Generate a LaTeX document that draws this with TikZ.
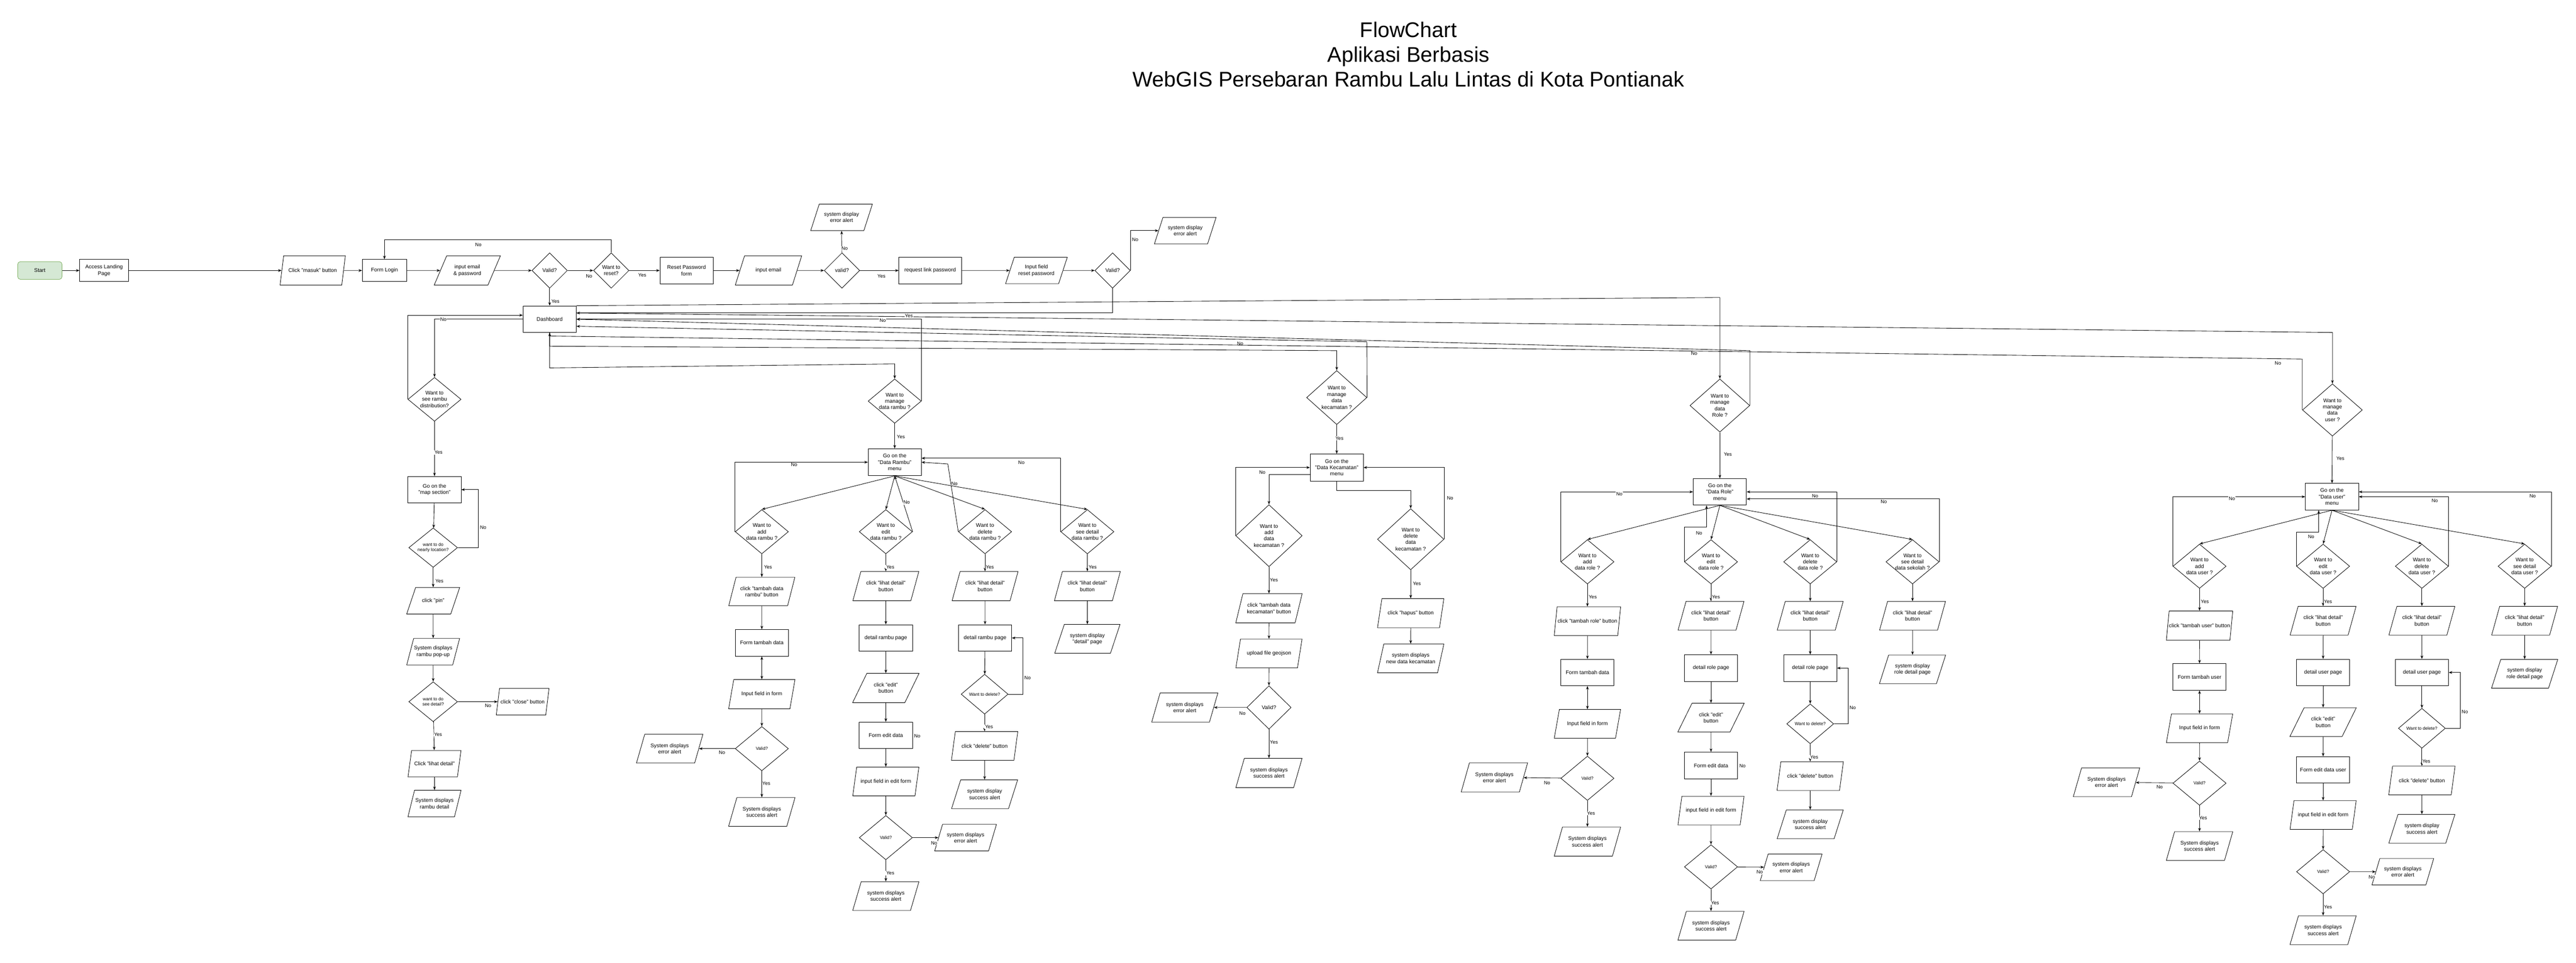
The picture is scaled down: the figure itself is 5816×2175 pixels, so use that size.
\documentclass[tikz,border=0pt]{standalone}
\usepackage{fontspec}
\setmainfont{Liberation Sans}
\usepackage{xcolor}
\usepackage{tikz}
\usetikzlibrary{shapes.geometric, arrows.meta}
\definecolor{startfill}{HTML}{D5E8D4}
\definecolor{startline}{HTML}{82B366}
\tikzstyle{startstop} = [rectangle, rounded corners=6pt, draw=startline, fill=startfill, minimum width=100pt, minimum height=40pt]
\tikzstyle{process} = [rectangle, draw, align=center, inner sep=2pt, minimum width=120pt, minimum height=60pt]
\tikzstyle{io} = [trapezium, trapezium left angle=72, trapezium right angle=108, trapezium stretches=true, draw, align=center, inner xsep=-14pt, minimum width=150pt, minimum height=65pt]
\tikzstyle{iosmall} = [io, minimum width=120pt, minimum height=60pt]
\tikzstyle{decision} = [diamond, draw, align=center, inner sep=-6pt, minimum width=120pt, minimum height=100pt]
\tikzstyle{smalldecision} = [decision, minimum width=80pt, minimum height=80pt]
\tikzstyle{small} = [font=\fontsize{10}{12}\selectfont]
\tikzstyle{askdelete} = [decision, small, minimum width=106pt, minimum height=90pt]
\tikzstyle{arrow} = [-{Stealth[length=8pt, width=6pt]}]
\tikzstyle{arrowboth} = [{Stealth[length=8pt, width=6pt]}-{Stealth[length=8pt, width=6pt]}]
\tikzstyle{lbl} = [fill=white, inner sep=1pt, font=\fontsize{11}{13}\selectfont]

\begin{document}
\begin{tikzpicture}[x=1pt, y=-1pt, line width=1pt, every node/.style={font=\fontsize{12}{14.4}\selectfont}]
\useasboundingbox (0,0) rectangle (5816,2175);

\node[font=\fontsize{48}{56}\selectfont, align=center] (title) at (3180,123) {FlowChart\\Aplikasi Berbasis\\WebGIS Persebaran Rambu Lalu Lintas di Kota Pontianak};

% login and reset password row
\node[startstop] (start) at (90,611) {Start};
\node[process, minimum width=110pt, minimum height=50pt] (landing) at (235,611) {Access Landing\\Page};
\node[io, minimum width=148pt, minimum height=66pt] (clickmasuk) at (706,611) {Click "masuk" button};
\node[process, minimum width=100pt, minimum height=50pt] (formlogin) at (868,611) {Form Login};
\node[io, minimum height=66pt] (inputlogin) at (1055,611) {input email\\\& password};
\node[smalldecision] (validlogin) at (1241,611) {Valid?};
\node[smalldecision] (wantreset) at (1380,611) {Want to\\reset?};
\node[process] (resetform) at (1550,611) {Reset Password\\form};
\node[io, minimum height=66pt] (inputemail) at (1735,611) {input email};
\node[smalldecision] (validemail) at (1901,611) {valid?};
\node[io, minimum width=140pt, minimum height=60pt] (erremail) at (1900,491) {system display\\error alert};
\node[process, minimum width=141pt] (reqlink) at (2100,611) {request link password};
\node[io, minimum width=140pt, minimum height=60pt] (inputreset) at (2340,611) {Input field\\reset password};
\node[smalldecision] (validreset) at (2512,611) {Valid?};
\node[io, minimum width=140pt, minimum height=60pt] (errreset) at (2676,521) {system display\\error alert};
\node[process] (dash) at (1241,721) {Dashboard};

% rambu distribution column
\node[decision, minimum height=99pt] (distdec) at (981,902) {Want to\\see rambu\\distribution?};
\node[process] (mapsec) at (981,1106) {Go on the\\"map section"};
\node[decision, small, minimum width=110pt, minimum height=89pt] (neardec) at (978,1237) {want to do\\nearly location?};
\node[iosmall] (clickpin) at (978,1357) {click "pin"};
\node[iosmall] (popup) at (978,1472) {System displays\\rambu pop-up};
\node[decision, small, minimum width=110pt, minimum height=90pt] (detdec) at (978,1585) {want to do\\see detail?};
\node[iosmall] (clickclose) at (1180,1585) {click "close" button};
\node[iosmall] (clicklihat) at (981,1725) {Click "lihat detail"};
\node[iosmall] (rambudetail) at (981,1815) {System displays\\rambu detail};

% data rambu
\node[decision] (rambudec) at (2020,906) {Want to\\manage\\data rambu ?};
\node[process, minimum height=61pt] (rambumenu) at (2020,1044) {Go on the\\"Data Rambu"\\menu};
\node[decision] (rAddDec) at (1720,1201) {Want to\\add\\data rambu ?};
\node[decision] (rEditDec) at (2000,1201) {Want to\\edit\\data rambu ?};
\node[decision] (rDelDec) at (2224,1201) {Want to\\delete\\data rambu ?};
\node[decision] (rSeeDec) at (2455,1201) {Want to\\see detail\\data rambu ?};
\node[io, minimum height=64pt] (rAddClick) at (1720,1336) {click "tambah data\\rambu" button};
\node[io, minimum height=66pt] (rEditClick) at (2000,1324) {click "lihat detail"\\button};
\node[io, minimum height=66pt] (rDelClick) at (2224,1324) {click "lihat detail"\\button};
\node[io, minimum height=66pt] (rSeeClick) at (2455,1324) {click "lihat detail"\\button};
\node[process] (rAddForm) at (1720,1452) {Form tambah data};
\node[io, minimum height=66pt] (rAddInput) at (1720,1568) {Input field in form};
\node[decision, small] (rAddValid) at (1720,1691) {Valid?};
\node[io] (rAddErr) at (1512,1691) {System displays\\error alert};
\node[io] (rAddOk) at (1720,1834) {System displays\\success alert};
\node[process] (rEditPage) at (2000,1441) {detail rambu page};
\node[io, minimum height=66pt] (rEditBtn) at (2000,1554) {click "edit"\\button};
\node[process] (rEditForm) at (2000,1661) {Form edit data};
\node[io] (rEditInput) at (2000,1765) {input field in edit form};
\node[decision, small] (rEditValid) at (2000,1892) {Valid?};
\node[io, minimum width=140pt, minimum height=60pt] (rEditErr) at (2180,1892) {system displays\\error alert};
\node[io] (rEditOk) at (2000,2024) {system displays\\success alert};
\node[process] (rDelPage) at (2224,1441) {detail rambu page};
\node[askdelete] (rDelAsk) at (2223,1568) {Want to delete?};
\node[io] (rDelBtn) at (2223,1685) {click "delete" button};
\node[io] (rDelOk) at (2223,1794) {system display\\success alert};
\node[io, minimum width=148pt] (rSeePage) at (2455,1443) {system display\\"detail" page};

% data kecamatan
\node[decision, minimum width=136pt, minimum height=122pt] (kecdec) at (3018,898) {Want to\\manage\\data\\kecamatan ?};
\node[process, minimum height=61pt] (kecmenu) at (3018,1056) {Go on the\\"Data Kecamatan"\\menu};
\node[decision, minimum width=150pt, minimum height=140pt] (kAddDec) at (2865,1210) {Want to\\add\\data\\kecamatan ?};
\node[decision, minimum width=150pt, minimum height=138pt] (kDelDec) at (3185,1218) {Want to\\delete\\data\\kecamatan ?};
\node[io, minimum height=66pt] (kAddClick) at (2865,1374) {click "tambah data\\kecamatan" button};
\node[io] (kUpload) at (2865,1476) {upload file geojson};
\node[decision, minimum width=100pt, minimum height=98pt] (kValid) at (2865,1598) {Valid?};
\node[io, minimum height=66pt] (kErr) at (2675,1598) {system displays\\error alert};
\node[io, minimum height=66pt] (kOk) at (2865,1746) {system displays\\success alert};
\node[io, minimum height=66pt] (kHapus) at (3185,1385) {click "hapus" button};
\node[io] (kNew) at (3185,1487) {system displays\\new data kecamatan};

% data role
\node[decision, minimum width=135pt, minimum height=120pt] (roledec) at (3883,916) {Want to\\manage\\data\\Role ?};
\node[process] (rolemenu) at (3883,1111) {Go on the\\"Data Role"\\menu};
\node[decision] (oAddDec) at (3584,1269) {Want to\\add\\data role ?};
\node[decision] (oEditDec) at (3863,1269) {Want to\\edit\\data role ?};
\node[decision] (oDelDec) at (4087,1269) {Want to\\delete\\data role ?};
\node[decision] (oSeeDec) at (4318,1269) {Want to\\see detail\\data sekolah ?};
\node[io] (oAddClick) at (3584,1403) {click "tambah role" button};
\node[io] (oEditClick) at (3863,1391) {click "lihat detail"\\button};
\node[io] (oDelClick) at (4087,1391) {click "lihat detail"\\button};
\node[io] (oSeeClick) at (4318,1391) {click "lihat detail"\\button};
\node[process] (oAddForm) at (3584,1519) {Form tambah data};
\node[io] (oAddInput) at (3584,1635) {Input field in form};
\node[decision, small] (oAddValid) at (3584,1758) {Valid?};
\node[io, minimum height=66pt] (oAddErr) at (3374,1756) {System displays\\error alert};
\node[io, minimum height=66pt] (oAddOk) at (3584,1901) {System displays\\success alert};
\node[process] (oEditPage) at (3863,1509) {detail role page};
\node[io] (oEditBtn) at (3863,1621) {click "edit"\\button};
\node[process] (oEditForm) at (3863,1729) {Form edit data};
\node[io] (oEditInput) at (3863,1831) {input field in edit form};
\node[decision, small] (oEditValid) at (3863,1958) {Valid?};
\node[io, minimum width=140pt, minimum height=60pt] (oEditErr) at (4044,1959) {system displays\\error alert};
\node[io] (oEditOk) at (3863,2091) {system displays\\success alert};
\node[process] (oDelPage) at (4087,1509) {detail role page};
\node[askdelete] (oDelAsk) at (4087,1635) {Want to delete?};
\node[io] (oDelBtn) at (4087,1753) {click "delete" button};
\node[io] (oDelOk) at (4087,1862) {system display\\success alert};
\node[io] (oSeePage) at (4318,1512) {system display\\role detail page};

% data user
\node[decision, minimum width=135pt, minimum height=118pt] (userdec) at (5266,926) {Want to\\manage\\data\\user ?};
\node[process] (usermenu) at (5265,1122) {Go on the\\"Data user"\\menu};
\node[decision] (uAddDec) at (4966,1279) {Want to\\add\\data user ?};
\node[decision] (uEditDec) at (5245,1279) {Want to\\edit\\data user ?};
\node[decision] (uDelDec) at (5468,1279) {Want to\\delete\\data user ?};
\node[decision] (uSeeDec) at (5700,1279) {Want to\\see detail\\data user ?};
\node[io, minimum height=66pt] (uAddClick) at (4966,1413) {click "tambah user" button};
\node[io] (uEditClick) at (5245,1402) {click "lihat detail"\\button};
\node[io] (uDelClick) at (5468,1402) {click "lihat detail"\\button};
\node[io] (uSeeClick) at (5700,1402) {click "lihat detail"\\button};
\node[process] (uAddForm) at (4966,1529) {Form tambah user};
\node[io] (uAddInput) at (4966,1645) {Input field in form};
\node[decision, small] (uAddValid) at (4966,1769) {Valid?};
\node[io] (uAddErr) at (4756,1767) {System displays\\error alert};
\node[io] (uAddOk) at (4966,1911) {System displays\\success alert};
\node[process] (uEditPage) at (5245,1519) {detail user page};
\node[io] (uEditBtn) at (5245,1631) {click "edit"\\button};
\node[process] (uEditForm) at (5245,1739) {Form edit data user};
\node[io] (uEditInput) at (5245,1841) {input field in edit form};
\node[decision, small] (uEditValid) at (5245,1969) {Valid?};
\node[io, minimum width=140pt, minimum height=60pt] (uEditErr) at (5425,1969) {system displays\\error alert};
\node[io] (uEditOk) at (5245,2101) {system displays\\success alert};
\node[process] (uDelPage) at (5468,1519) {detail user page};
\node[askdelete] (uDelAsk) at (5468,1645) {Want to delete?};
\node[io] (uDelBtn) at (5468,1763) {click "delete" button};
\node[io] (uDelOk) at (5468,1872) {system display\\success alert};
\node[io] (uSeePage) at (5700,1522) {system display\\role detail page};

% bend points of the long connectors
\coordinate (loginLoop) at (868,541);
\coordinate (roleTop) at (3883,672);
\coordinate (userTop) at (5266,751);
\coordinate (roleNo) at (3951,792);
\coordinate (kecNo) at (3086,772);
\coordinate (userNo) at (5198,811);
\coordinate (dashBelow) at (1241,759);
\coordinate (dashS1) at (1241,782);
\coordinate (dashS2) at (1241,831);
\coordinate (kecTop) at (3018,792);
\coordinate (rambuTop) at (2020,822);
\coordinate (nearLoop) at (1080,1237);
\coordinate (rDelNo) at (2140,1048);
\coordinate (rDelLoop) at (2310,1568);
\coordinate (kecS) at (3018,1108);
\coordinate (oEditNo) at (3853,1191);
\coordinate (oDelLoop) at (4173,1635);
\coordinate (uEditNo) at (5235,1202);
\coordinate (uDelLoop) at (5555,1645);

% login flow arrows
\draw[arrow] (start) -- (landing);
\draw[arrow] (landing) -- (clickmasuk);
\draw[arrow] (clickmasuk) -- (formlogin);
\draw[arrow] (formlogin) -- (inputlogin);
\draw[arrow] (inputlogin) -- (validlogin);
\draw[arrow] (validlogin) -- (wantreset) node[lbl] at (1330,624) {No};
\draw[arrow] (wantreset.north) |- (loginLoop) -- (formlogin.north) node[lbl] at (1080,553) {No};
\draw[arrow] (wantreset) -- (resetform) node[lbl] at (1450,621) {Yes};
\draw[arrow] (validlogin) -- (dash) node[lbl] at (1254,681) {Yes};
\draw[arrow] (resetform) -- (inputemail);
\draw[arrow] (inputemail) -- (validemail);
\draw[arrow] (validemail) -- (erremail) node[lbl] at (1907,561) {No};
\draw[arrow] (validemail) -- (reqlink) node[lbl] at (1990,624) {Yes};
\draw[arrow] (reqlink) -- (inputreset);
\draw[arrow] (inputreset) -- (validreset);
\draw[arrow] (validreset.east) |- (errreset) node[lbl] at (2563,541) {No};
\draw[arrow] (validreset.south) |- ([yshift=14pt]dash.east);

% dashboard connectors
\draw[arrow] (dash.west) -| (distdec.north) node[lbl] at (1001,721) {No};
\draw[arrow] (distdec.west) |- ([yshift=9pt]dash.west);
\draw[arrow] (dash.north east) -- (roleTop) -- (roledec.north);
\draw[arrow] ([yshift=14pt]dash.east) -- (userTop) -- (userdec.north) node[lbl] at (2052,713) {Yes};
\draw[arrow] (rambudec.east) |- (dash.east) node[lbl] at (1993,724) {No};
\draw[arrow] (roledec.east) -- (roleNo) -- (dash.east) node[lbl] at (3825,798) {No};
\draw[arrow] (kecdec.east) -- (kecNo) -- ([yshift=-16pt]dash.east) node[lbl] at (2800,776) {No};
\draw[arrow] (userdec.west) -- (userNo) -- (dashBelow) -- (dash.south) node[lbl] at (5143,820) {No};
\draw[arrow] (dash.south) -- (dashS2) -- (rambuTop) -- (rambudec.north);
\draw[arrow] (dash.south) -- (dashS1) -- (kecTop) -- (kecdec.north);

% rambu distribution arrows
\draw[arrow] (distdec) -- (mapsec) node[lbl] at (990,1022) {Yes};
\draw[arrow] (mapsec) -- (neardec);
\draw[arrow] (neardec.east) -- (nearLoop) |- (mapsec.east) node[lbl] at (1091,1192) {No};
\draw[arrow] (neardec) -- (clickpin) node[lbl] at (992,1312) {Yes};
\draw[arrow] (clickpin) -- (popup);
\draw[arrow] (popup) -- (detdec);
\draw[arrow] (detdec) -- (clickclose) node[lbl] at (1102,1594) {No};
\draw[arrow] (detdec) -- (clicklihat) node[lbl] at (989,1659) {Yes};
\draw[arrow] (clicklihat) -- (rambudetail);

% data rambu arrows
\draw[arrow] (rambudec) -- (rambumenu) node[lbl] at (2034,987) {Yes};
\draw[arrow] (rambumenu.south) -- (rAddDec.north);
\draw[arrow] (rambumenu.south) -- (rEditDec.north);
\draw[arrow] (rambumenu.south) -- (rDelDec.north);
\draw[arrow] (rambumenu.south) -- (rSeeDec.north);
\draw[arrow] (rAddDec.west) |- (rambumenu.west) node[lbl] at (1793,1049) {No};
\draw[arrow] (rEditDec.east) -- (rambumenu.south) node[lbl] at (2047,1135) {No};
\draw[arrow] (rDelDec.west) -- (rDelNo) -- (rambumenu.east) node[lbl] at (2155,1092) {No};
\draw[arrow] (rSeeDec.west) |- ([yshift=9pt]rambumenu.east) node[lbl] at (2306,1045) {No};
\draw[arrow] (rAddDec) -- (rAddClick) node[lbl] at (1734,1281) {Yes};
\draw[arrow] (rEditDec) -- (rEditClick) node[lbl] at (2010,1281) {Yes};
\draw[arrow] (rDelDec) -- (rDelClick) node[lbl] at (2235,1281) {Yes};
\draw[arrow] (rSeeDec) -- (rSeeClick) node[lbl] at (2467,1281) {Yes};
\draw[arrow] (rAddClick) -- (rAddForm);
\draw[arrowboth] (rAddForm) -- (rAddInput);
\draw[arrow] (rAddInput) -- (rAddValid);
\draw[arrow] (rAddValid) -- (rAddErr) node[lbl] at (1630,1700) {No};
\draw[arrow] (rAddValid) -- (rAddOk) node[lbl] at (1730,1770) {Yes};
\draw[arrow] (rEditClick) -- (rEditPage);
\draw[arrow] (rEditPage) -- (rEditBtn);
\draw[arrow] (rEditBtn) -- (rEditForm);
\draw[arrow] (rEditForm) -- (rEditInput);
\draw[arrow] (rEditInput) -- (rEditValid);
\draw[arrow] (rEditValid) -- (rEditErr) node[lbl] at (2109,1904) {No};
\draw[arrow] (rEditValid) -- (rEditOk) node[lbl] at (2010,1972) {Yes};
\node[lbl] (rEditStray) at (2071,1662) {No};
\draw[arrow] (rDelClick) -- (rDelPage);
\draw[arrow] (rDelPage) -- (rDelAsk);
\draw[arrow] (rDelAsk.east) -- (rDelLoop) |- (rDelPage.east) node[lbl] at (2320,1531) {No};
\draw[arrow] (rDelAsk) -- (rDelBtn) node[lbl] at (2233,1642) {Yes};
\draw[arrow] (rDelBtn) -- (rDelOk);
\draw[arrow] (rSeeClick) -- (rSeePage);

% data kecamatan arrows
\draw[arrow] (kecdec) -- (kecmenu) node[lbl] at (3024,990) {Yes};
\draw[arrow] ([yshift=-16pt]kecmenu.west) -| (kAddDec.north);
\draw[arrow] (kAddDec.west) |- (kecmenu.west) node[lbl] at (2850,1067) {No};
\draw[arrow] (kecmenu.south) -- (kecS) -| (kDelDec.north);
\draw[arrow] (kDelDec.east) |- (kecmenu.east) node[lbl] at (3274,1125) {No};
\draw[arrow] (kAddDec) -- (kAddClick) node[lbl] at (2876,1310) {Yes};
\draw[arrow] (kAddClick) -- (kUpload);
\draw[arrow] (kUpload) -- (kValid);
\draw[arrow] (kValid) -- (kErr) node[lbl] at (2805,1611) {No};
\draw[arrow] (kValid) -- (kOk) node[lbl] at (2876,1677) {Yes};
\draw[arrow] (kDelDec) -- (kHapus) node[lbl] at (3199,1318) {Yes};
\draw[arrow] (kHapus) -- (kNew);

% data role arrows
\draw[arrow] (roledec) -- (rolemenu) node[lbl] at (3901,1026) {Yes};
\draw[arrow] (rolemenu.south) -- (oAddDec.north);
\draw[arrow] (rolemenu.south) -- (oEditDec.north);
\draw[arrow] (rolemenu.south) -- (oDelDec.north);
\draw[arrow] (rolemenu.south) -- (oSeeDec.north);
\draw[arrow] (oAddDec.west) |- (rolemenu.west) node[lbl] at (3656,1116) {No};
\draw[arrow] (oEditDec.west) |- (oEditNo) -- (oEditNo |- rolemenu.south) node[lbl] at (3836,1204) {No};
\draw[arrow] (oDelDec.east) |- (rolemenu.east) node[lbl] at (4098,1121) {No};
\draw[arrow] (oSeeDec.east) |- ([yshift=-16pt]rolemenu.east) node[lbl] at (4253,1133) {No};
\draw[arrow] (oAddDec) -- (oAddClick) node[lbl] at (3596,1349) {Yes};
\draw[arrow] (oEditDec) -- (oEditClick) node[lbl] at (3874,1349) {Yes};
\draw[arrow] (oDelDec) -- (oDelClick);
\draw[arrow] (oSeeDec) -- (oSeeClick);
\draw[arrow] (oAddClick) -- (oAddForm);
\draw[arrowboth] (oAddForm) -- (oAddInput);
\draw[arrow] (oAddInput) -- (oAddValid);
\draw[arrow] (oAddValid) -- (oAddErr) node[lbl] at (3493,1768) {No};
\draw[arrow] (oAddValid) -- (oAddOk) node[lbl] at (3592,1837) {Yes};
\draw[arrow] (oEditClick) -- (oEditPage);
\draw[arrow] (oEditPage) -- (oEditBtn);
\draw[arrow] (oEditBtn) -- (oEditForm);
\draw[arrow] (oEditForm) -- (oEditInput);
\draw[arrow] (oEditInput) -- (oEditValid);
\draw[arrow] (oEditValid) -- (oEditErr) node[lbl] at (3973,1970) {No};
\draw[arrow] (oEditValid) -- (oEditOk) node[lbl] at (3872,2039) {Yes};
\node[lbl] (oEditStray) at (3934,1730) {No};
\draw[arrow] (oDelClick) -- (oDelPage);
\draw[arrow] (oDelPage) -- (oDelAsk);
\draw[arrow] (oDelAsk.east) -- (oDelLoop) |- (oDelPage.east) node[lbl] at (4183,1598) {No};
\draw[arrow] (oDelAsk) -- (oDelBtn) node[lbl] at (4096,1710) {Yes};
\draw[arrow] (oDelBtn) -- (oDelOk);
\draw[arrow] (oSeeClick) -- (oSeePage);

% data user arrows
\draw[arrow] (userdec) -- (usermenu) node[lbl] at (5284,1036) {Yes};
\draw[arrow] (usermenu.south) -- (uAddDec.north);
\draw[arrow] (usermenu.south) -- (uEditDec.north);
\draw[arrow] (usermenu.south) -- (uDelDec.north);
\draw[arrow] (usermenu.south) -- (uSeeDec.north);
\draw[arrow] (uAddDec.west) |- (usermenu.west) node[lbl] at (5039,1126) {No};
\draw[arrow] (uEditDec.west) |- (uEditNo) -- (uEditNo |- usermenu.south) node[lbl] at (5218,1212) {No};
\draw[arrow] (uDelDec.east) |- (usermenu.east) node[lbl] at (5497,1131) {No};
\draw[arrow] (uSeeDec.east) |- ([yshift=11pt]usermenu.east) node[lbl] at (5718,1121) {No};
\draw[arrow] (uAddDec) -- (uAddClick) node[lbl] at (4978,1359) {Yes};
\draw[arrow] (uEditDec) -- (uEditClick) node[lbl] at (5256,1359) {Yes};
\draw[arrow] (uDelDec) -- (uDelClick);
\draw[arrow] (uSeeDec) -- (uSeeClick);
\draw[arrow] (uAddClick) -- (uAddForm);
\draw[arrowboth] (uAddForm) -- (uAddInput);
\draw[arrow] (uAddInput) -- (uAddValid);
\draw[arrow] (uAddValid) -- (uAddErr) node[lbl] at (4876,1778) {No};
\draw[arrow] (uAddValid) -- (uAddOk) node[lbl] at (4974,1847) {Yes};
\draw[arrow] (uEditClick) -- (uEditPage);
\draw[arrow] (uEditPage) -- (uEditBtn);
\draw[arrow] (uEditBtn) -- (uEditForm);
\draw[arrow] (uEditForm) -- (uEditInput);
\draw[arrow] (uEditInput) -- (uEditValid);
\draw[arrow] (uEditValid) -- (uEditErr) node[lbl] at (5355,1981) {No};
\draw[arrow] (uEditValid) -- (uEditOk) node[lbl] at (5256,2049) {Yes};
\draw[arrow] (uDelClick) -- (uDelPage);
\draw[arrow] (uDelPage) -- (uDelAsk);
\draw[arrow] (uDelAsk.east) -- (uDelLoop) |- (uDelPage.east) node[lbl] at (5565,1608) {No};
\draw[arrow] (uDelAsk) -- (uDelBtn) node[lbl] at (5478,1720) {Yes};
\draw[arrow] (uDelBtn) -- (uDelOk);
\draw[arrow] (uSeeClick) -- (uSeePage);

\end{tikzpicture}
\end{document}
